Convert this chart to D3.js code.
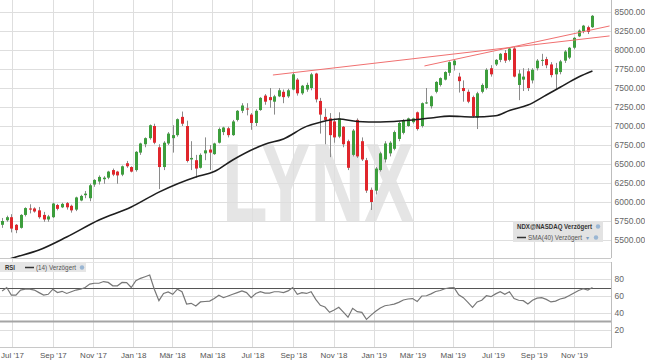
<!DOCTYPE html>
<html>
<head>
<meta charset="utf-8">
<script src="https://cdn.jsdelivr.net/npm/d3@7"></script>
<style>
body { margin: 0; background: #fff; }
text { font-family: "Liberation Sans", Arial, sans-serif; }
</style>
</head>
<body>
<div id="chart"></div>
<script>
// weekly NDX candles, first one is the week ending Fri 16 Jun 2017
var firstWeek = new Date(2017, 5, 16);

var opens = [5700,5760,5800,5700,5660,5830,5915,5915,5890,5830,
  5770,5800,5960,5930,5985,5950,5900,6020,6090,6050,
  6230,6270,6300,6320,6420,6400,6360,6510,6460,6420,
  6650,6760,6840,7000,6720,6460,6770,6840,6880,7120,
  7000,6560,6550,6450,6640,6690,6630,6780,6920,6970,
  6880,7080,7200,7230,7150,7040,7210,7400,7380,7320,
  7390,7450,7390,7480,7610,7430,7480,7500,7690,7330,
  7120,7100,7060,6860,6990,6800,6620,7080,6800,6550,
  6160,6150,6420,6560,6640,6700,6830,6910,7000,7050,
  7180,7000,7300,7260,7450,7540,7610,7700,7800,7650,
  7500,7450,7380,7110,7450,7500,7760,7810,7870,7960,
  7870,8020,7540,7610,7720,7600,7760,7860,7880,7810,
  7680,7710,7860,7900,8030,8180,8250,8300,8300];
var highs = [5790,5820,5840,5710,5840,5930,5970,5930,5935,5870,
  5830,5990,5975,5990,6000,5965,6070,6095,6145,6240,
  6300,6350,6340,6410,6440,6410,6480,6540,6470,6670,
  6780,6850,7020,7030,6760,6800,6920,7010,7100,7190,
  7070,6800,6620,6640,6850,6750,6780,6980,6990,6990,
  7080,7210,7300,7300,7170,7220,7380,7420,7500,7410,
  7500,7480,7490,7700,7630,7540,7570,7700,7700,7370,
  7230,7170,7100,7180,7000,6820,6960,7100,6850,6580,
  6190,6460,6660,6800,6800,6940,7060,7090,7110,7110,
  7190,7310,7500,7400,7590,7640,7720,7850,7880,7700,
  7600,7480,7400,7450,7560,7760,7800,7880,7960,8000,
  8040,8040,7740,7760,7760,7760,7880,7950,7910,7840,
  7830,7870,8000,8040,8170,8270,8330,8320,8460];
var lows = [5660,5740,5600,5590,5650,5810,5850,5860,5780,5740,
  5740,5790,5890,5920,5900,5860,5880,6010,6050,6010,
  6200,6230,6240,6300,6340,6240,6340,6450,6390,6400,
  6620,6720,6820,6760,6170,6420,6750,6650,6860,7000,
  6520,6420,6320,6440,6550,6420,6620,6770,6880,6850,
  6870,7060,7170,7140,6950,7000,7200,7280,7240,7150,
  7380,7300,7370,7470,7400,7410,7450,7470,7310,6900,
  6760,6590,6780,6840,6720,6420,6600,6580,6540,6120,
  5895,6100,6400,6520,6600,6680,6800,6890,6990,7030,
  6940,6980,7290,7230,7430,7520,7600,7660,7730,7440,
  7320,7300,7110,6960,7430,7480,7650,7790,7840,7830,
  7850,7640,7340,7460,7460,7560,7730,7790,7760,7640,
  7480,7680,7830,7880,8010,8170,8220,8210,8290];
var closes = [5750,5800,5650,5630,5830,5920,5900,5875,5800,5770,
  5810,5980,5910,5975,5930,5890,6060,6080,6110,6220,
  6290,6330,6320,6400,6360,6350,6470,6470,6400,6660,
  6770,6840,7010,6780,6460,6780,6900,6880,7090,7030,
  6540,6580,6440,6620,6680,6650,6770,6960,6980,6880,
  7060,7200,7270,7220,7040,7200,7370,7320,7340,7390,
  7470,7380,7470,7680,7430,7530,7540,7680,7350,7150,
  7080,6880,6850,7100,6760,6450,6940,6600,6560,6150,
  6000,6440,6640,6770,6780,6920,7040,7070,7100,7100,
  6960,7300,7310,7390,7580,7630,7710,7840,7860,7590,
  7460,7320,7130,7430,7540,7740,7680,7870,7950,7860,
  8020,7650,7690,7650,7500,7740,7860,7870,7800,7670,
  7760,7850,7980,8030,8160,8255,8320,8240,8450];

// SMA(40): week index -> value
var smaWeek = [0,3,8,14,21,28,34,42,46,50,57,61,66,69,73,77,82,89,93,97,102,107,110,114,118,121,125,128];
var smaValue = [5220,5276,5368,5539,5763,5934,6130,6329,6400,6553,6760,6830,6995,7050,7092,7060,7053,7079,7106,7130,7119,7135,7205,7275,7408,7510,7645,7724];

// RSI(14), one value per week
var rsiValue = [66,70,61,61,67,68,68,67,64,61,
  62,68,64,65.5,63,65,67,68,70,74,
  75,75,77,76,72,72,76,75.7,70,78,
  80.8,82.7,84.7,68,54.5,63,64.7,62,68,65,
  50.6,51.4,48.2,53,53.5,54,57,61,58,60,
  62,64,66,64,58,63,65,63.5,63.5,65,
  65,64,66,70,62,64,63,65,56,49,
  47,40.8,43.5,46.7,41,35,45.5,41.6,40.8,32.5,
  37.5,42,46,48.5,49.4,50.5,52.5,55.3,56.5,57,
  53.5,60,60.3,62.5,65.3,66.5,68.5,69.5,69.8,61.5,
  58,52.5,46.7,53,55,60.3,59.2,62.5,65,62,
  65,57,55,54.5,50.5,55,57.5,58,56,53,
  54,56.5,57.8,60.5,63.5,66.5,68.5,67,70];

// red resistance lines
var trendA = [[new Date(2018, 7, 1), 7671], [new Date(2019, 11, 25), 8185]];
var trendB = [[new Date(2019, 2, 19), 7790], [new Date(2019, 11, 25), 8316]];

var priceTicks = [5500,5750,6000,6250,6500,6750,7000,7250,7500,7750,8000,8250,8500];
var rsiTicks = [20, 40, 60, 80];
var monthTicks = [new Date(2017,6,1), new Date(2017,8,1), new Date(2017,10,1), new Date(2018,0,1),
  new Date(2018,2,1), new Date(2018,4,1), new Date(2018,6,1), new Date(2018,8,1), new Date(2018,10,1),
  new Date(2019,0,1), new Date(2019,2,1), new Date(2019,4,1), new Date(2019,6,1), new Date(2019,8,1),
  new Date(2019,10,1)];
var monthLabels = ["Jul '17","Sep '17","Nov '17","Jan '18","Mär '18","Mai '18","Jul '18","Sep '18",
  "Nov '18","Jan '19","Mär '19","Mai '19","Jul '19","Sep '19","Nov '19"];

var width = 645, height = 363;
var plotRight = 611;
var mainTop = 0, mainBottom = 258;
var rsiTop = 262, rsiBottom = 347;

var weeks = closes.map(function(d, i) { return d3.timeDay.offset(firstWeek, 7 * i); });
var candles = closes.map(function(c, i) {
  return { date: weeks[i], o: opens[i], h: highs[i], l: lows[i], c: c };
});

var x = d3.scaleTime()
  .domain([new Date(2017, 6, 1), new Date(2019, 10, 1)])
  .range([12, 574]);
var y = d3.scaleLinear().domain([5500, 8500]).range([240, 12]);
var yRsi = d3.scaleLinear().domain([0, 100]).range([rsiBottom, rsiTop]);

var svg = d3.select('#chart').append('svg')
  .attr('width', width)
  .attr('height', height);

svg.append('defs').append('clipPath').attr('id', 'mainClip')
  .append('rect').attr('x', 0).attr('y', mainTop).attr('width', plotRight).attr('height', mainBottom - mainTop);

// watermark
svg.append('text')
  .attr('x', 222).attr('y', 221)
  .attr('textLength', 192)
  .attr('lengthAdjust', 'spacingAndGlyphs')
  .style('font-size', '112px')
  .style('font-weight', 'bold')
  .attr('fill', '#e5e5e5')
  .text('LYNX');

// grid main
svg.append('g').selectAll('line').data(priceTicks).enter().append('line')
  .attr('x1', 0).attr('x2', plotRight)
  .attr('y1', function(d) { return Math.round(y(d)) + 0.5; })
  .attr('y2', function(d) { return Math.round(y(d)) + 0.5; })
  .attr('stroke', '#dedede');

svg.append('g').selectAll('line').data(monthTicks).enter().append('line')
  .attr('x1', function(d) { return Math.round(x(d)) + 0.5; })
  .attr('x2', function(d) { return Math.round(x(d)) + 0.5; })
  .attr('y1', mainTop).attr('y2', rsiBottom)
  .attr('stroke', '#dedede');

// grid rsi
svg.append('g').selectAll('line').data(rsiTicks).enter().append('line')
  .attr('x1', 0).attr('x2', plotRight)
  .attr('y1', function(d) { return Math.round(yRsi(d)) + 0.5; })
  .attr('y2', function(d) { return Math.round(yRsi(d)) + 0.5; })
  .attr('stroke', '#dedede');

// panel borders
svg.append('line').attr('x1', 0).attr('x2', plotRight).attr('y1', mainBottom + 0.5).attr('y2', mainBottom + 0.5).attr('stroke', '#c8c8c8');
svg.append('line').attr('x1', 0).attr('x2', plotRight).attr('y1', rsiTop + 0.5).attr('y2', rsiTop + 0.5).attr('stroke', '#e4e4e4');
svg.append('line').attr('x1', 0).attr('x2', plotRight).attr('y1', rsiBottom + 0.5).attr('y2', rsiBottom + 0.5).attr('stroke', '#c8c8c8');

var main = svg.append('g').attr('clip-path', 'url(#mainClip)');

// candles
var candle = main.append('g').selectAll('g').data(candles).enter().append('g');
candle.append('line')
  .attr('x1', function(d) { return Math.round(x(d.date)) + 0.5; })
  .attr('x2', function(d) { return Math.round(x(d.date)) + 0.5; })
  .attr('y1', function(d) { return y(d.h); })
  .attr('y2', function(d) { return y(d.l); })
  .attr('stroke', '#8a8a8a');
candle.append('rect')
  .attr('x', function(d) { return Math.round(x(d.date)) - 1; })
  .attr('width', 3)
  .attr('y', function(d) { return y(Math.max(d.o, d.c)); })
  .attr('height', function(d) { return Math.max(1, Math.abs(y(d.o) - y(d.c))); })
  .attr('fill', function(d) { return d.c >= d.o ? '#3d9e3d' : '#e0262c'; });

// SMA(40)
var sma = smaWeek.map(function(w, i) { return [weeks[w], smaValue[i]]; });
main.append('path')
  .datum(sma)
  .attr('fill', 'none')
  .attr('stroke', '#1e1e1e')
  .attr('stroke-width', 1.6)
  .attr('d', d3.line().curve(d3.curveMonotoneX).x(function(d) { return x(d[0]); }).y(function(d) { return y(d[1]); }));

// trend lines
[trendA, trendB].forEach(function(t) {
  main.append('line')
    .attr('x1', x(t[0][0])).attr('y1', y(t[0][1]))
    .attr('x2', x(t[1][0])).attr('y2', y(t[1][1]))
    .attr('stroke', '#f07070')
    .attr('stroke-width', 1);
});

// right price axis
var priceAxis = d3.axisRight(y).tickValues(priceTicks).tickFormat(d3.format('.2f')).tickSize(0).tickPadding(3);
var pa = svg.append('g').attr('transform', 'translate(' + (plotRight + 0.5) + ',0)').call(priceAxis);
pa.select('.domain').remove();
pa.selectAll('text').attr('fill', '#666').style('font-size', '8.5px').style('font-family', '"Liberation Sans", Arial, sans-serif');
svg.append('line').attr('x1', plotRight + 0.5).attr('x2', plotRight + 0.5).attr('y1', mainTop).attr('y2', mainBottom).attr('stroke', '#bdbdbd');

// legend main
var leg = svg.append('g');
leg.append('rect').attr('x', 513).attr('y', 221).attr('width', 90).attr('height', 21).attr('fill', '#e3e3e3');
leg.append('text').attr('x', 517).attr('y', 229).attr('textLength', 75).attr('lengthAdjust', 'spacingAndGlyphs')
  .style('font-size', '6.8px').style('font-weight', 'bold').attr('fill', '#333').text('NDX@NASDAQ Verzögert');
leg.append('circle').attr('cx', 598).attr('cy', 226.5).attr('r', 2.2).attr('fill', '#9ab6d3');
leg.append('line').attr('x1', 517).attr('x2', 526).attr('y1', 237.5).attr('y2', 237.5).attr('stroke', '#333').attr('stroke-width', 1.5);
leg.append('text').attr('x', 528).attr('y', 240).attr('textLength', 54).attr('lengthAdjust', 'spacingAndGlyphs')
  .style('font-size', '6.8px').attr('fill', '#555').text('SMA(40) Verzögert');
leg.append('text').attr('x', 586).attr('y', 240).style('font-size', '6px').attr('fill', '#7a9cc0').text('▾');
leg.append('circle').attr('cx', 596).attr('cy', 237.5).attr('r', 2.2).attr('fill', '#9ab6d3');

// RSI panel
svg.append('line').attr('x1', 0).attr('x2', plotRight)
  .attr('y1', Math.round(yRsi(70)) + 0.5).attr('y2', Math.round(yRsi(70)) + 0.5)
  .attr('stroke', '#555');
svg.append('line').attr('x1', 0).attr('x2', plotRight)
  .attr('y1', yRsi(30)).attr('y2', yRsi(30))
  .attr('stroke', '#a5a5a5').attr('stroke-width', 2);

svg.append('path')
  .datum(rsiValue)
  .attr('fill', 'none')
  .attr('stroke', '#777')
  .attr('stroke-width', 1.2)
  .attr('d', d3.line().x(function(d, i) { return x(weeks[i]); }).y(function(d) { return yRsi(d); }));

var rsiAxis = d3.axisRight(yRsi).tickValues(rsiTicks).tickSize(0).tickPadding(3);
var ra = svg.append('g').attr('transform', 'translate(' + (plotRight + 0.5) + ',0)').call(rsiAxis);
ra.select('.domain').remove();
ra.selectAll('text').attr('fill', '#666').style('font-size', '8.5px').style('font-family', '"Liberation Sans", Arial, sans-serif');
svg.append('line').attr('x1', plotRight + 0.5).attr('x2', plotRight + 0.5).attr('y1', rsiTop).attr('y2', rsiBottom + 1).attr('stroke', '#bdbdbd');

var rleg = svg.append('g');
rleg.append('rect').attr('x', 0).attr('y', 263).attr('width', 86).attr('height', 9).attr('fill', '#e6e6e6');
rleg.append('text').attr('x', 5).attr('y', 270).attr('textLength', 10).attr('lengthAdjust', 'spacingAndGlyphs')
  .style('font-size', '6.8px').style('font-weight', 'bold').attr('fill', '#333').text('RSI');
rleg.append('line').attr('x1', 25).attr('x2', 34).attr('y1', 267.5).attr('y2', 267.5).attr('stroke', '#333').attr('stroke-width', 1.5);
rleg.append('text').attr('x', 36).attr('y', 270).attr('textLength', 40).attr('lengthAdjust', 'spacingAndGlyphs')
  .style('font-size', '6.8px').attr('fill', '#555').text('(14) Verzögert');
rleg.append('circle').attr('cx', 82).attr('cy', 267.5).attr('r', 2.2).attr('fill', '#9ab6d3');

// x axis
var xAxis = d3.axisBottom(x).tickValues(monthTicks).tickFormat(function(d, i) { return monthLabels[i]; }).tickSize(0).tickPadding(4);
var xa = svg.append('g').attr('transform', 'translate(0,' + (rsiBottom + 1) + ')').call(xAxis);
xa.select('.domain').remove();
xa.selectAll('text').attr('fill', '#555').style('font-size', '8px').style('font-family', '"Liberation Sans", Arial, sans-serif');
</script>
</body>
</html>
